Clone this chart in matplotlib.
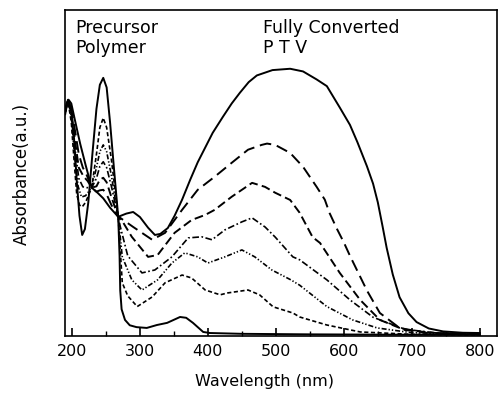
import matplotlib
matplotlib.use('Agg')
import matplotlib.pyplot as plt
from matplotlib.ticker import MultipleLocator

# UV-vis absorption spectra: precursor polymer -> fully converted PTV

# fully converted PTV (solid)
wl_ptv = [190, 192, 195, 199, 205, 212, 220, 229, 238, 246, 256, 268, 280, 290, 300, 312, 322, 330,
          341, 351, 362, 374, 385, 395, 407, 422, 435, 447, 460, 472, 495, 521, 540, 560, 575, 594,
          609, 620, 634, 643, 650, 657, 663, 672, 682, 695, 707, 725, 746, 775, 800]
abs_ptv = [0.84, 0.87, 0.884, 0.87, 0.80, 0.72, 0.64, 0.555, 0.535, 0.515, 0.48, 0.446, 0.458, 0.464,
           0.445, 0.405, 0.378, 0.382, 0.404, 0.45, 0.51, 0.585, 0.65, 0.70, 0.76, 0.82, 0.87, 0.91,
           0.95, 0.975, 0.995, 1.0, 0.99, 0.96, 0.935, 0.855, 0.79, 0.725, 0.635, 0.57, 0.50, 0.41,
           0.33, 0.23, 0.145, 0.085, 0.052, 0.028, 0.017, 0.012, 0.011]

# precursor polymer (solid)
wl_pre = [190, 194, 198, 203, 207, 211, 215, 219, 224, 230, 236, 241, 246, 251, 256, 262, 268, 270,
          271, 273, 278, 285, 295, 310, 325, 340, 359, 368, 378, 393, 403, 450, 550, 650, 800]
abs_pre = [0.83, 0.884, 0.86, 0.74, 0.58, 0.45, 0.378, 0.40, 0.50, 0.68, 0.85, 0.94, 0.966, 0.93,
           0.80, 0.62, 0.446, 0.30, 0.17, 0.10, 0.06, 0.04, 0.033, 0.03, 0.041, 0.049, 0.071, 0.068,
           0.049, 0.015, 0.011, 0.008, 0.006, 0.005, 0.004]

# partially converted films
wl_c1 = [190, 194, 199, 205, 210, 216, 222, 229, 236, 241, 246, 251, 258, 268, 271, 290, 318, 337,
         362, 385, 410, 435, 459, 479, 487, 499, 521, 540, 560, 572, 579, 590, 600, 609, 634, 653,
         682, 720, 800]
abs_c1 = [0.84, 0.88, 0.85, 0.76, 0.68, 0.63, 0.60, 0.555, 0.54, 0.545, 0.547, 0.53, 0.49, 0.446,
          0.442, 0.408, 0.36, 0.386, 0.472, 0.547, 0.596, 0.648, 0.697, 0.715, 0.72, 0.715, 0.685,
          0.633, 0.558, 0.51, 0.46, 0.40, 0.35, 0.30, 0.17, 0.086, 0.03, 0.012, 0.007]

wl_c2 = [190, 194, 199, 205, 210, 217, 223, 229, 236, 241, 246, 251, 258, 268, 274, 288, 312, 326,
         351, 376, 396, 410, 435, 465, 484, 499, 521, 535, 554, 565, 594, 624, 653, 690, 740, 800]
abs_c2 = [0.84, 0.88, 0.84, 0.72, 0.63, 0.597, 0.58, 0.555, 0.56, 0.585, 0.592, 0.575, 0.52, 0.446,
          0.43, 0.371, 0.296, 0.303, 0.386, 0.434, 0.453, 0.472, 0.521, 0.573, 0.558, 0.536, 0.509,
          0.461, 0.37, 0.348, 0.236, 0.135, 0.06, 0.022, 0.01, 0.007]

wl_c3 = [190, 194, 199, 205, 210, 216, 222, 229, 236, 241, 246, 251, 258, 268, 271, 282, 303, 322,
         347, 371, 391, 406, 425, 450, 465, 484, 499, 525, 535, 575, 609, 643, 690, 740, 800]
abs_c3 = [0.84, 0.88, 0.83, 0.69, 0.59, 0.558, 0.555, 0.555, 0.59, 0.635, 0.652, 0.63, 0.56, 0.446,
          0.41, 0.30, 0.236, 0.247, 0.296, 0.367, 0.371, 0.36, 0.397, 0.427, 0.442, 0.408, 0.37,
          0.296, 0.285, 0.21, 0.135, 0.07, 0.025, 0.01, 0.006]

wl_c4 = [190, 194, 199, 204, 209, 214, 220, 229, 236, 241, 246, 251, 258, 268, 274, 288, 303, 326,
         347, 366, 385, 400, 425, 450, 469, 494, 522, 535, 575, 613, 649, 700, 800]
abs_c4 = [0.84, 0.88, 0.82, 0.67, 0.56, 0.52, 0.525, 0.555, 0.63, 0.69, 0.715, 0.69, 0.60, 0.446,
          0.296, 0.21, 0.172, 0.21, 0.273, 0.311, 0.296, 0.273, 0.296, 0.322, 0.296, 0.247, 0.21,
          0.19, 0.11, 0.06, 0.03, 0.012, 0.006]

wl_c5 = [190, 194, 199, 203, 207, 211, 215, 220, 229, 236, 241, 246, 251, 258, 268, 274, 282, 296,
         318, 337, 362, 376, 396, 418, 429, 459, 476, 496, 525, 535, 575, 624, 700, 800]
abs_c5 = [0.84, 0.88, 0.80, 0.66, 0.53, 0.49, 0.483, 0.50, 0.555, 0.68, 0.78, 0.816, 0.78, 0.66,
          0.446, 0.199, 0.15, 0.11, 0.146, 0.199, 0.228, 0.217, 0.172, 0.154, 0.161, 0.172, 0.154,
          0.109, 0.086, 0.071, 0.041, 0.015, 0.006, 0.004]

xticks = [200, 300, 400, 500, 600, 700, 800]

fig = plt.figure(figsize=(4.98, 3.99), dpi=100)
ax = fig.add_axes([0.1305, 0.158, 0.867, 0.817])

lw = 1.4
ax.plot(wl_ptv, abs_ptv, color='black', lw=lw)
ax.plot(wl_pre, abs_pre, color='black', lw=lw)
ax.plot(wl_c1, abs_c1, color='black', lw=lw, dashes=(6, 3))
ax.plot(wl_c2, abs_c2, color='black', lw=lw, dashes=(4.5, 2.2))
ax.plot(wl_c3, abs_c3, color='black', lw=1.2, dashes=(4, 1.5, 1, 1.5))
ax.plot(wl_c4, abs_c4, color='black', lw=1.2, dashes=(3, 1.2, 0.8, 1.2, 0.8, 1.2))
ax.plot(wl_c5, abs_c5, color='black', lw=1.2, dashes=(2.5, 1.5))

ax.set_xlim(189.7, 825)
ax.set_ylim(0, 1.22)
ax.set_xticks(xticks)
ax.xaxis.set_minor_locator(MultipleLocator(50))
ax.set_yticks([])
ax.tick_params(axis='x', which='major', direction='in', length=6, width=1.2, pad=6, labelsize=11.5)
ax.tick_params(axis='x', which='minor', direction='in', length=3.5, width=1.0)
for s in ax.spines.values():
    s.set_linewidth(1.2)

ax.text(0.023, 0.972, 'Precursor\nPolymer', transform=ax.transAxes, ha='left', va='top',
        fontsize=12.5, linespacing=1.1)
ax.text(0.458, 0.972, 'Fully Converted\nP T V', transform=ax.transAxes, ha='left', va='top',
        fontsize=12.5, linespacing=1.1)

fig.text(0.532, 0.043, 'Wavelength (nm)', ha='center', va='center', fontsize=11.5)
fig.text(0.044, 0.564, 'Absorbance(a.u.)', ha='center', va='center', rotation=90, fontsize=12)

plt.savefig('out.png', dpi=100)
